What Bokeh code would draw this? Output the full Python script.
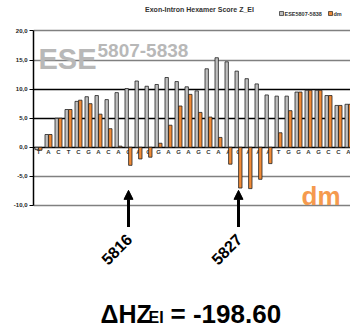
import math
from bokeh.plotting import figure
from bokeh.models import FixedTicker, Grid, Arrow, NormalHead, ColumnDataSource, Range1d
from bokeh.core.properties import value
from bokeh.embed import file_html
from bokeh.resources import INLINE

# ---- data ----
start_pos = 5807
bases = list("TACTCGACAGAGGAGAGCAAGAAATGGAGCCA")
ese_scores = [-0.4, 2.2, 5.0, 6.5, 7.9, 8.7, 8.9, 8.2, 9.4, 10.1, 11.4, 10.5, 10.8, 12.0,
              11.3, 10.4, 9.7, 13.5, 15.4, 14.7, 13.1, 11.8, 10.9, 9.0, 8.8, 8.8, 9.5,
              9.8, 9.8, 8.9, 7.2, 7.4]
dm_scores = [-0.5, 2.2, 5.0, 6.5, 8.1, 7.5, 5.7, 3.2, 0.2, -3.1, -2.0, -1.7, 0.7, 3.8,
             7.1, 9.1, 6.0, 5.2, 1.7, -2.9, -7.0, -7.1, -5.5, -2.8, 2.5, 6.3, 9.5,
             9.8, 9.8, 8.9, 7.2, 7.4]
marked_positions = [5816, 5827]
y_ticks = [-10, -5, 0, 5, 10, 15, 20]
y_tick_labels = ["-10,0", "-5,0", "0,0", "5,0", "10,0", "15,0", "20,0"]
title_text = "Exon-Intron Hexamer Score Z_EI"
series_names = ["ESE5807-5838", "dm"]
delta_value = "-198.60"

FONT = value("Liberation Sans")
GRAY = "#c0c0c0"
ORANGE = "#f08a36"

xs = list(range(len(bases)))

p = figure(width=350, height=328, output_backend="svg", toolbar_location=None,
           x_range=Range1d(-0.5, 31.2), y_range=Range1d(-31.15, 25.24),
           x_axis_location=None, min_border_left=33, min_border_right=0,
           min_border_top=0, min_border_bottom=0)
p.xgrid.visible = False
p.ygrid.visible = False
p.outline_line_color = None
p.background_fill_color = "white"
p.border_fill_color = "white"

yax = p.yaxis[0]
yax.ticker = FixedTicker(ticks=y_ticks)
yax.major_label_overrides = {t: l for t, l in zip(y_ticks, y_tick_labels)}
yax.bounds = (-10, 20)
yax.major_tick_out = 4
yax.major_tick_in = 0
yax.minor_tick_out = 0
yax.minor_tick_in = 0
yax.axis_line_color = "black"
yax.axis_line_width = 1.5
yax.major_tick_line_color = "black"
yax.major_label_text_font = "Liberation Sans"
yax.major_label_text_font_style = "bold"
yax.major_label_text_font_size = "6px"
yax.major_label_text_color = "#222222"
yax.major_label_standoff = 2

p.add_layout(Grid(dimension=1, ticker=FixedTicker(ticks=[-10, -5, 15, 20]),
                  grid_line_color="#808080", grid_line_width=1.5))
p.add_layout(Grid(dimension=1, ticker=FixedTicker(ticks=[5, 10]),
                  grid_line_color="black", grid_line_width=1.3))
p.add_layout(Grid(dimension=1, ticker=FixedTicker(ticks=[0]),
                  grid_line_color="black", grid_line_width=1.3))

# base letters along zero line
p.text(x=xs, y=[-0.75] * len(xs), text=bases, text_font=FONT, text_font_size="6px",
       text_font_style="bold", text_align="center", text_baseline="middle",
       text_color="#333333")

# big labels
p.text(x=[0.0], y=[15.2], text=["ESE"], text_font=FONT, text_font_size="29px",
       text_font_style="bold", text_align="left", text_baseline="alphabetic",
       text_color="#b8b8b8")
p.text(x=[5.9], y=[16.6], text=["5807-5838"], text_font=FONT, text_font_size="19px",
       text_font_style="bold", text_align="left", text_baseline="alphabetic",
       text_color="#b8b8b8")
p.text(x=[26.3], y=[-8.4], text=["dm"], text_font=FONT, text_font_size="26px",
       text_font_style="bold", text_align="left", text_baseline="alphabetic",
       text_color="#f59a4e")

# bars
p.vbar(x=[x - 0.18 for x in xs], width=0.34, top=ese_scores, bottom=0,
       fill_color=GRAY, line_color="#222222", line_width=0.8)
p.vbar(x=[x + 0.18 for x in xs], width=0.34, top=dm_scores, bottom=0,
       fill_color=ORANGE, line_color="#222222", line_width=0.8)

# title and legend
p.text(x=[16.1], y=[23.7], text=[title_text], text_font=FONT, text_font_size="7px",
       text_font_style="bold", text_align="center", text_baseline="middle",
       text_color="#333333")
p.scatter(x=[24.3, 29.2], y=[23.0, 23.0], marker="square", size=4,
          fill_color=[GRAY, ORANGE], line_color="#222222", line_width=0.7)
p.text(x=[24.6, 29.5], y=[23.0, 23.0], text=series_names, text_font=FONT,
       text_font_size="5.5px", text_font_style="bold", text_align="left",
       text_baseline="middle", text_color="#333333")

# arrows and position labels
ax = [pos - start_pos for pos in marked_positions]
arr_src = ColumnDataSource(dict(x0=ax, y0=[-13.7] * len(ax), x1=ax, y1=[-7.4] * len(ax)))
p.add_layout(Arrow(end=NormalHead(size=9, fill_color="black", line_color="black"),
                   x_start="x0", y_start="y0", x_end="x1", y_end="y1",
                   line_width=3, line_color="black", source=arr_src))
p.text(x=ax, y=[-17.5] * len(ax), text=[str(pos) for pos in marked_positions],
       text_font=FONT, text_font_size="16px", text_font_style="bold",
       text_align="center", text_baseline="middle", angle=math.pi / 4,
       x_offset=-12, text_color="black")

# delta HZ
p.text(x=[6.2], y=[-28.7], text=["\u0394HZ"], text_font=FONT, text_font_size="25px",
       text_font_style="bold", text_align="left", text_baseline="alphabetic",
       text_color="black")
p.text(x=[11.0], y=[-29.3], text=["EI"], text_font=FONT, text_font_size="16px",
       text_font_style="bold", text_align="left", text_baseline="alphabetic",
       text_color="black")
p.text(x=[13.2], y=[-28.7], text=["= " + delta_value], text_font=FONT,
       text_font_size="26px", text_font_style="bold", text_align="left",
       text_baseline="alphabetic", text_color="black")

open("out.html", "w").write(file_html(p, INLINE))
